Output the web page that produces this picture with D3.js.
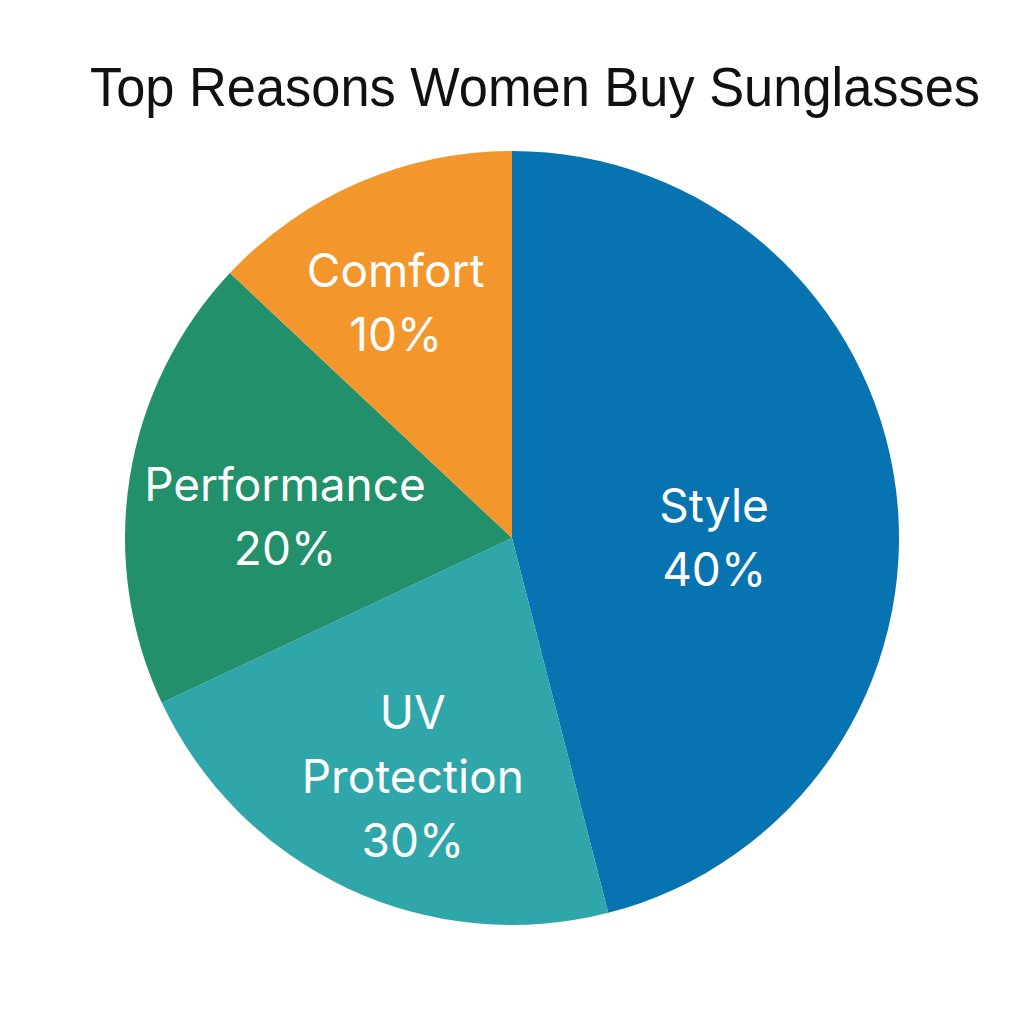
<!DOCTYPE html>
<html>
<head>
<meta charset="utf-8">
<script src="https://cdn.jsdelivr.net/npm/d3@7"></script>
<style>
    html, body { margin: 0; padding: 0; background: #ffffff; }
</style>
</head>
<body>
<div id="chart"></div>
<script>
// Categories, clockwise from 12 o'clock
const categories = ["Style", "UV Protection", "Performance", "Comfort"];
// Percent printed on each slice
const shownPercent = [40, 30, 20, 10];
const sliceShare = [46, 22, 19, 13];
const sliceColors = ["#0773B0", "#2FA6AA", "#21906B", "#F3962B"];
// Small hand nudges for the label blocks, relative to the arc centroid
const labelNudge = [[-36, 30], [3, 22], [10, 17], [-21, -15]];

const width = 1024, height = 1024;
const cx = 512, cy = 538, radius = 387;

const svg = d3.select("#chart").append("svg")
    .attr("width", width)
    .attr("height", height);

// Title (the original face is a bit narrower than Arial, so squeeze it to the same span)
svg.append("text")
    .attr("x", 535)
    .attr("y", 106)
    .attr("text-anchor", "middle")
    .attr("textLength", 890)
    .attr("lengthAdjust", "spacingAndGlyphs")
    .style("font-family", "'Liberation Sans', Arial, sans-serif")
    .style("font-size", "55px")
    .style("fill", "#111111")
    .text("Top Reasons Women Buy Sunglasses");

const rows = categories.map((c, i) => ({
    name: c, share: sliceShare[i], pct: shownPercent[i], color: sliceColors[i], nudge: labelNudge[i]
}));

const pie = d3.pie()
    .sort(null)
    .value(d => d.share);

const arc = d3.arc()
    .innerRadius(0)
    .outerRadius(radius);

const labelArc = d3.arc()
    .innerRadius(240)
    .outerRadius(240);

const g = svg.append("g")
    .attr("transform", `translate(${cx},${cy})`);

const arcs = pie(rows);

g.selectAll(".slice")
    .data(arcs)
    .enter().append("path")
    .attr("class", "slice")
    .attr("d", arc)
    .style("fill", d => d.data.color);

// Labels: category words on separate lines, then the percent
const lineHeight = 64;
const labels = g.selectAll(".label")
    .data(arcs)
    .enter().append("text")
    .attr("class", "label")
    .attr("text-anchor", "middle")
    .style("font-family", "Inter, 'Open Sans', sans-serif")
    .style("font-size", "46px")
    .style("fill", "#ffffff");

labels.each(function (d) {
    const lines = d.data.name.split(" ").concat([d.data.pct + "%"]);
    const c = labelArc.centroid(d);
    const x = c[0] + d.data.nudge[0];
    const y = c[1] + d.data.nudge[1];
    const top = y - (lines.length - 1) * lineHeight / 2 + 16;
    lines.forEach((line, i) => {
        d3.select(this).append("tspan")
            .attr("x", x)
            .attr("y", top + i * lineHeight)
            .text(line);
    });
});
</script>
</body>
</html>
